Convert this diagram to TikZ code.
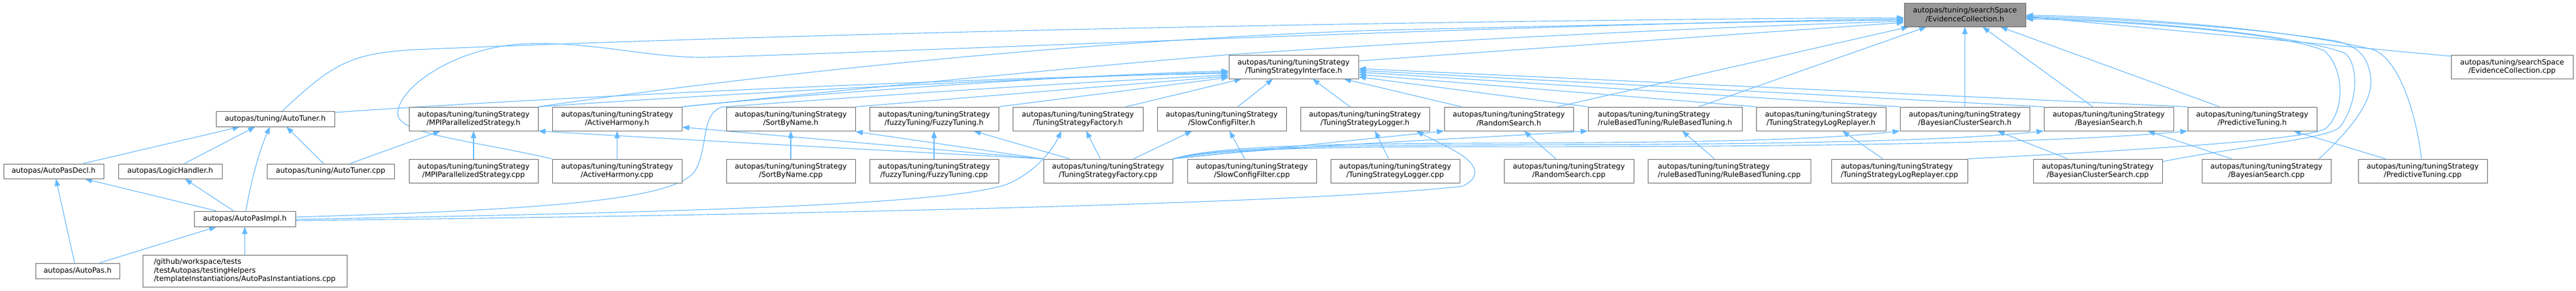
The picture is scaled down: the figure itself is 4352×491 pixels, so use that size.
\documentclass[tikz,border=0pt]{standalone}
\usepackage{fontspec}
\setmainfont{DejaVu Sans}
\usetikzlibrary{arrows.meta}
\definecolor{edgec}{HTML}{63B8FF}
\definecolor{nodeb}{HTML}{666666}
\definecolor{ecfill}{HTML}{999999}
\pgfdeclarelayer{bg}
\pgfsetlayers{bg,main}
\tikzset{
  box/.style={draw=nodeb, fill=white, line width=1pt, inner sep=0pt, align=center, text=black,
              font=\fontsize{12.3pt}{14.5pt}\selectfont},
  sb/.style={box, minimum width=218pt, minimum height=40pt},
  ln/.style={draw=edgec, line width=1.1pt, -{Triangle[length=12pt,width=9pt,fill=edgec]}}
}
\begin{document}
\begin{tikzpicture}[x=1pt,y=-1pt]
\useasboundingbox (0,0) rectangle (4352,491);
% nodes
\node[box,minimum width=205pt,minimum height=40pt,fill=ecfill] (EC) at (3319.5,25) {autopas/tuning/searchSpace\\/EvidenceCollection.h};
\node[box,minimum width=206pt,minimum height=40pt] (ECcpp) at (4244,113) {autopas/tuning/searchSpace\\/EvidenceCollection.cpp};
\node[sb,minimum width=219pt] (TSI) at (2185.5,113) {autopas/tuning/tuningStrategy\\/TuningStrategyInterface.h};
\node[box,minimum width=200pt,minimum height=26pt] (AT) at (465,201) {autopas/tuning/AutoTuner.h};
\node[box,minimum width=169pt,minimum height=25pt] (APD) at (90.5,289.5) {autopas/AutoPasDecl.h};
\node[box,minimum width=175pt,minimum height=25pt] (LH) at (287.5,289.5) {autopas/LogicHandler.h};
\node[box,minimum width=215pt,minimum height=25pt] (ATcpp) at (558.5,289.5) {autopas/tuning/AutoTuner.cpp};
\node[box,minimum width=171pt,minimum height=26pt] (API) at (413.5,370) {autopas/AutoPasImpl.h};
\node[box,minimum width=142pt,minimum height=26pt] (AP) at (131,458) {autopas/AutoPas.h};
\node[box,minimum width=345pt,minimum height=54pt,align=left] (INST) at (413.5,458) {/github/workspace/tests\\/testAutopas/testingHelpers\\/templateInstantiations/AutoPasInstantiations.cpp};
\node[sb] (MPIh) at (800,201) {autopas/tuning/tuningStrategy\\/MPIParallelizedStrategy.h};
\node[sb] (MPIcpp) at (800,289) {autopas/tuning/tuningStrategy\\/MPIParallelizedStrategy.cpp};
\node[sb,minimum width=219pt] (AHh) at (1042.5,201) {autopas/tuning/tuningStrategy\\/ActiveHarmony.h};
\node[sb,minimum width=219pt] (AHcpp) at (1042.5,289) {autopas/tuning/tuningStrategy\\/ActiveHarmony.cpp};
\node[sb] (SBNh) at (1336,201) {autopas/tuning/tuningStrategy\\/SortByName.h};
\node[sb] (SBNcpp) at (1336,289) {autopas/tuning/tuningStrategy\\/SortByName.cpp};
\node[sb] (FTh) at (1578,201) {autopas/tuning/tuningStrategy\\/fuzzyTuning/FuzzyTuning.h};
\node[sb] (FTcpp) at (1578,289) {autopas/tuning/tuningStrategy\\/fuzzyTuning/FuzzyTuning.cpp};
\node[sb,minimum width=220pt] (TSFh) at (1821,201) {autopas/tuning/tuningStrategy\\/TuningStrategyFactory.h};
\node[sb] (TSFcpp) at (1872,289) {autopas/tuning/tuningStrategy\\/TuningStrategyFactory.cpp};
\node[sb] (SCFh) at (2064,201) {autopas/tuning/tuningStrategy\\/SlowConfigFilter.h};
\node[sb] (SCFcpp) at (2115,289) {autopas/tuning/tuningStrategy\\/SlowConfigFilter.cpp};
\node[sb] (TSLh) at (2306,201) {autopas/tuning/tuningStrategy\\/TuningStrategyLogger.h};
\node[sb] (TSLcpp) at (2357,289) {autopas/tuning/tuningStrategy\\/TuningStrategyLogger.cpp};
\node[sb] (RSh) at (2549,201) {autopas/tuning/tuningStrategy\\/RandomSearch.h};
\node[sb,minimum width=219pt] (RScpp) at (2650.5,289) {autopas/tuning/tuningStrategy\\/RandomSearch.cpp};
\node[sb,minimum width=260pt,align=left] (RBTh) at (2813,201) {autopas/tuning/tuningStrategy\\/ruleBasedTuning/RuleBasedTuning.h};
\node[sb,minimum width=275pt,align=left] (RBTcpp) at (2921.5,289) {autopas/tuning/tuningStrategy\\/ruleBasedTuning/RuleBasedTuning.cpp};
\node[sb,minimum width=219pt] (TSLRh) at (3076.5,201) {autopas/tuning/tuningStrategy\\/TuningStrategyLogReplayer.h};
\node[sb,minimum width=230pt,align=left] (TSLRcpp) at (3209,289) {autopas/tuning/tuningStrategy\\/TuningStrategyLogReplayer.cpp};
\node[sb,minimum width=219pt] (BCSh) at (3319.5,201) {autopas/tuning/tuningStrategy\\/BayesianClusterSearch.h};
\node[sb] (BCScpp) at (3544,289) {autopas/tuning/tuningStrategy\\/BayesianClusterSearch.cpp};
\node[sb,minimum width=219pt] (BSh) at (3562.5,201) {autopas/tuning/tuningStrategy\\/BayesianSearch.h};
\node[sb] (BScpp) at (3829,289) {autopas/tuning/tuningStrategy\\/BayesianSearch.cpp};
\node[sb] (PTh) at (3805,201) {autopas/tuning/tuningStrategy\\/PredictiveTuning.h};
\node[sb] (PTcpp) at (4093,289) {autopas/tuning/tuningStrategy\\/PredictiveTuning.cpp};

\begin{pgfonlayer}{bg}
% bottom-left group
\draw[ln] ([xshift=50pt]APD.north) -- ([xshift=-60pt]AT.south);
\draw[ln] ([xshift=24pt]LH.north) -- ([xshift=-34pt]AT.south);
\draw[ln] ([xshift=2pt]API.north) .. controls (425,300) and (440,250) .. ([xshift=-9pt]AT.south);
\draw[ln] ([xshift=-12pt]ATcpp.north) -- ([xshift=19pt]AT.south);
\draw[ln] ([xshift=33pt]ATcpp.north) -- ([xshift=-56pt]MPIh.south);
\draw[ln] (MPIcpp.north) -- (MPIh.south);
\draw[ln] ([xshift=-48pt]API.north) -- ([xshift=53pt]APD.south);
\draw[ln] ([xshift=-19pt]API.north) -- ([xshift=25pt]LH.south);
\draw[ln] ([xshift=-5pt]AP.north) -- ([xshift=4pt]APD.south);
\draw[ln] ([xshift=37pt]AP.north) -- ([xshift=-48pt]API.south);
\draw[ln] (INST.north) -- (API.south);
% cpp -> own header
\draw[ln] (AHcpp.north) -- (AHh.south);
\draw[ln] (SBNcpp.north) -- (SBNh.south);
\draw[ln] (FTcpp.north) -- (FTh.south);
\draw[ln] ([xshift=-13pt]TSFcpp.north) -- ([xshift=14pt]TSFh.south);
\draw[ln] ([xshift=-12pt]SCFcpp.north) -- ([xshift=13pt]SCFh.south);
\draw[ln] ([xshift=-11pt]TSLcpp.north) -- ([xshift=17pt]TSLh.south);
\draw[ln] ([xshift=-22pt]RScpp.north) -- ([xshift=26pt]RSh.south);
\draw[ln] ([xshift=-25pt]RBTcpp.north) -- ([xshift=29pt]RBTh.south);
\draw[ln] ([xshift=-28pt]TSLRcpp.north) -- ([xshift=36pt]TSLRh.south);
\draw[ln] ([xshift=-51pt]BCScpp.north) -- ([xshift=55pt]BCSh.south);
\draw[ln] ([xshift=-59pt]BScpp.north) -- ([xshift=66pt]BSh.south);
\draw[ln] ([xshift=-63pt]PTcpp.north) -- ([xshift=70pt]PTh.south);
% TuningStrategyFactory.cpp fan
\draw[ln] (TSFcpp.north west) .. controls (1450,252) and (1150,236) .. (MPIh.south east);
\draw[ln] (TSFcpp.north west) -- ([yshift=-14pt]AHh.east);
\draw[ln] (TSFcpp.north west) -- ([yshift=-1pt]SBNh.south east);
\draw[ln] ([xshift=-65pt]TSFcpp.north) -- ([xshift=67pt]FTh.south);
\draw[ln] ([xshift=43pt]TSFcpp.north) -- ([xshift=-50pt]SCFh.south);
\draw[ln] (TSFcpp.north east) -- (RSh.south west);
\draw[ln] (TSFcpp.north east) .. controls (2150,248) and (2450,236) .. (RBTh.south west);
\draw[ln] (TSFcpp.north east) .. controls (2040,252) and (2150,243) .. (2500,242) .. controls (2900,241) and (3080,236) .. (BCSh.south west);
\draw[ln] (TSFcpp.north east) .. controls (2040,254) and (2150,246) .. (2500,245) .. controls (3000,245) and (3300,238) .. (BSh.south west);
\draw[ln] (TSFcpp.north east) .. controls (2040,256) and (2150,248) .. (2500,248) .. controls (3100,249) and (3500,240) .. (PTh.south west);
% into TuningStrategyInterface.h
\draw[ln] ([yshift=11pt]AT.east) .. controls (1000,160) and (1700,130) .. ([yshift=-11pt]TSI.west);
\draw[ln] (MPIh.north east) .. controls (1200,160) and (1700,133) .. ([yshift=-9pt]TSI.west);
\draw[ln] (AHh.north east) .. controls (1350,160) and (1800,127) .. ([yshift=-7pt]TSI.west);
\draw[ln] ([yshift=3pt]API.east) .. controls (900,355) and (1130,340) .. (1172,292) .. controls (1198,255) and (1182,192) .. (1220,181) .. controls (1500,160) and (1800,140) .. ([yshift=-14pt]TSI.west);
\draw[ln] (SBNh.north east) -- ([yshift=-16pt]TSI.west);
\draw[ln] (FTh.north east) -- ([yshift=-18pt]TSI.west);
\draw[ln] ([xshift=81pt]TSFh.north) -- ([xshift=-88pt]TSI.south);
\draw[ln] ([xshift=27pt]SCFh.north) -- ([xshift=-35pt]TSI.south);
\draw[ln] ([xshift=-25pt]TSLh.north) -- ([xshift=32pt]TSI.south);
\draw[ln] ([xshift=-80pt]RSh.north) -- ([xshift=85pt]TSI.south);
\draw[ln] (RBTh.north west) -- ([yshift=-17pt]TSI.east);
\draw[ln] (TSLRh.north west) -- ([yshift=-13pt]TSI.east);
\draw[ln] (BCSh.north west) -- ([yshift=-9pt]TSI.east);
\draw[ln] (BSh.north west) -- ([yshift=-6pt]TSI.east);
\draw[ln] (PTh.north west) -- ([yshift=-3pt]TSI.east);
% into EvidenceCollection.h
\draw[ln] ([yshift=10pt]TSI.east) -- ([yshift=-13pt]EC.west);
\draw[ln] ([xshift=12pt]AT.north) .. controls (560,110) and (590,90) .. (700,84) .. controls (1500,50) and (2600,33) .. ([yshift=-5pt]EC.west);
\draw[ln] (AHcpp.north west) .. controls (800,238) and (680,228) .. (672,195) .. controls (668,150) and (770,78) .. (890,74) .. controls (1000,70) and (1100,98) .. (1190,97) .. controls (1600,85) and (2600,40) .. ([yshift=-7pt]EC.west);
\draw[ln] (MPIh.north east) .. controls (1150,145) and (1700,75) .. (2300,52) .. controls (2700,42) and (3000,36) .. ([yshift=-9pt]EC.west);
\draw[ln] (AHh.north east) .. controls (1400,155) and (1800,115) .. (TSI.north west) .. controls (2400,70) and (2900,45) .. ([yshift=-11pt]EC.west);
\draw[ln] ([xshift=82pt]RSh.north) -- ([xshift=-95pt]EC.south);
\draw[ln] ([xshift=57pt]RBTh.north) -- ([xshift=-65pt]EC.south);
\draw[ln] (BCSh.north) -- (EC.south);
\draw[ln] ([xshift=-27pt]BSh.north) -- ([xshift=30pt]EC.south);
\draw[ln] ([xshift=-55pt]PTh.north) -- ([xshift=60pt]EC.south);
\draw[ln] ([yshift=18pt]ECcpp.west) -- ([yshift=-3pt]EC.east);
\draw[ln] (TSLRcpp.north east) .. controls (3650,252) and (3890,236) .. (3928,218) .. controls (3962,190) and (3962,118) .. (3927,86) .. controls (3850,52) and (3550,34) .. ([yshift=-7pt]EC.east);
\draw[ln] ([yshift=16pt]BCScpp.east) .. controls (3800,245) and (3930,235) .. (3953,215) .. controls (3985,172) and (3985,110) .. (3962,90) .. controls (3860,52) and (3550,32) .. ([yshift=-5pt]EC.east);
\draw[ln] ([xshift=89pt]BScpp.north) .. controls (3975,215) and (4010,170) .. (4005,130) .. controls (4000,95) and (3985,80) .. (3950,70) .. controls (3800,45) and (3550,30) .. ([yshift=-3pt]EC.east);
\draw[ln] ([xshift=-2pt]PTcpp.north) .. controls (4080,180) and (4050,100) .. (4010,84) .. controls (3850,45) and (3550,27) .. ([yshift=-1pt]EC.east);
% AutoPasImpl.h to factory and logger
\draw[ln] ([yshift=-1pt]API.east) .. controls (1200,358) and (1600,345) .. (1700,312) .. controls (1750,292) and (1780,250) .. ([xshift=-28pt]TSFh.south);
\draw[ln] ([yshift=-3pt]API.east) .. controls (1300,364) and (2200,345) .. (2470,315) .. controls (2500,302) and (2497,282) .. (2472,264) .. controls (2445,246) and (2412,232) .. ([xshift=87pt]TSLh.south);
\end{pgfonlayer}
\end{tikzpicture}
\end{document}
